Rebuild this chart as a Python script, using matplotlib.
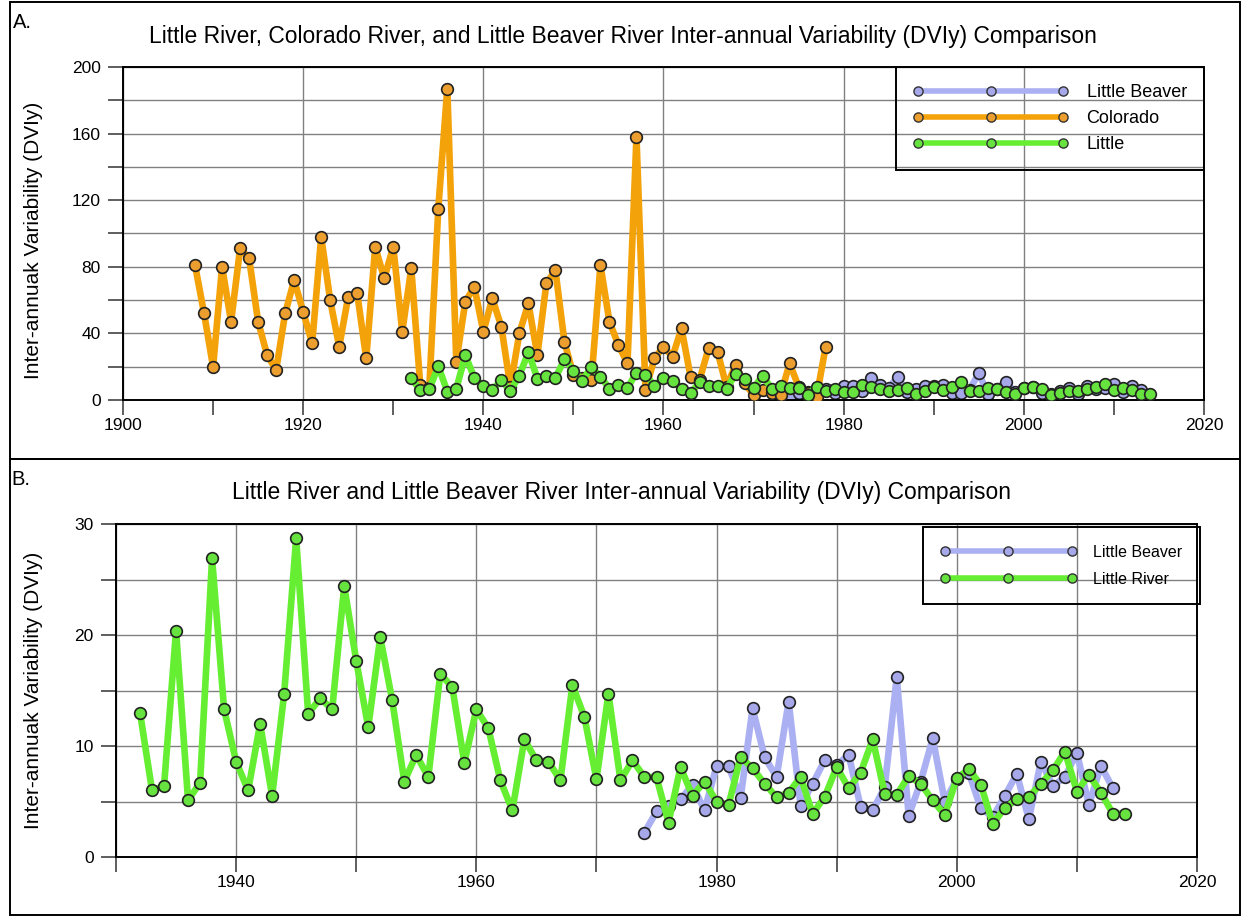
import matplotlib
matplotlib.use("Agg")
import matplotlib.pyplot as plt
from matplotlib.lines import Line2D
from matplotlib.patches import Rectangle
from matplotlib.ticker import MultipleLocator

# ---------------- data ----------------
colorado_years = list(range(1908, 1979))
colorado = [81, 52, 20, 80, 47, 91, 85, 47, 27, 18,
            52, 72, 53, 34, 98, 60, 32, 62, 64, 25,
            92, 73, 92, 41, 79, 9, 7, 115, 187, 23,
            59, 68, 41, 61, 44, 8, 40, 58, 27, 70,
            78, 35, 15, 13, 12, 81, 47, 33, 22, 158,
            6, 25, 32, 26, 43, 14, 12, 31, 29, 8,
            21, 10, 3, 6, 4, 3, 22, 8, 4, 2, 32]

little_years = list(range(1932, 2015))
little = [13.0, 6.0, 6.4, 20.4, 5.1, 6.7, 26.9, 13.3, 8.6, 6.0,
          12.0, 5.5, 14.7, 28.7, 12.9, 14.3, 13.3, 24.4, 17.7, 11.7,
          19.8, 14.1, 6.8, 9.2, 7.2, 16.5, 15.3, 8.5, 13.3, 11.6,
          6.9, 4.2, 10.6, 8.7, 8.6, 6.9, 15.5, 12.6, 7.0, 14.7,
          6.9, 8.7, 7.2, 7.2, 3.1, 8.1, 5.5, 6.8, 5.0, 4.7,
          9.0, 8.0, 6.6, 5.4, 5.8, 7.2, 3.9, 5.4, 8.1, 6.2,
          7.6, 10.6, 5.7, 5.6, 7.3, 6.6, 5.1, 3.8, 7.1, 7.9,
          6.5, 3.0, 4.4, 5.2, 5.4, 6.6, 7.8, 9.5, 5.9, 7.4,
          5.8, 3.9, 3.9]

beaver_years = list(range(1974, 2014))
beaver = [2.2, 4.1, 4.6, 5.2, 6.5, 4.2, 8.2, 8.2, 5.3, 13.4,
          9.0, 7.2, 14.0, 4.6, 6.6, 8.7, 8.3, 9.2, 4.5, 4.2,
          6.3, 16.2, 3.7, 6.8, 10.7, 5.0, 7.0, 7.6, 4.4, 3.6,
          5.5, 7.5, 3.4, 8.6, 6.4, 7.2, 9.4, 4.7, 8.2, 6.2]

title_a = "Little River, Colorado River, and Little Beaver River Inter-annual Variability (DVIy) Comparison"
title_b = "Little River and Little Beaver River Inter-annual Variability (DVIy) Comparison"
ylabel = "Inter-annuak Variability (DVIy)"
legend_a = ['Little Beaver', 'Colorado', 'Little']
legend_b = ['Little Beaver', 'Little River']

# ---------------- style ----------------
plt.rcParams['font.family'] = ['Liberation Sans', 'DejaVu Sans']

C_OR_LINE, C_OR_FACE = '#F4A20A', '#EC9F2E'
C_GR_LINE, C_GR_FACE = '#66EE33', '#66E33F'
C_BL_LINE, C_BL_FACE = '#AAB0F2', '#A6A8EA'
EDGE = '#222222'
LW, MS, MEW = 4.8, 8.4, 1.2

W, H = 1243, 917
fig = plt.figure(figsize=(W / 100, H / 100), dpi=100)


def px_axes(l, t, r, b):
    return fig.add_axes([l / W, 1 - b / H, (r - l) / W, (b - t) / H])


def series(ax, x, y, lc, fc, z):
    ax.plot(x, y, '-', color=lc, lw=LW, zorder=z, solid_capstyle='round',
            solid_joinstyle='round')
    ax.plot(x, y, 'o', ms=MS, mfc=fc, mec=EDGE, mew=MEW, zorder=z + 0.5)


def style_axes(ax):
    ax.set_axisbelow(True)
    for s in ax.spines.values():
        s.set_linewidth(1.4)
        s.set_color('black')
    ax.tick_params(which='both', direction='out', length=11, width=1.1,
                   color='#333333', labelsize=12.5)
    ax.tick_params(axis='x', which='both', pad=2)
    ax.tick_params(axis='y', which='both', pad=5)
    ax.grid(True, which='major', color='#808080', lw=1.0)
    ax.yaxis.grid(True, which='minor', color='#808080', lw=1.0)


def proxy(lc, fc):
    return Line2D([], [], color=lc, lw=4.0, marker='o', ms=6.6, mfc=fc,
                  mec='#333333', mew=1.0)


def frame_style(leg):
    fr = leg.get_frame()
    fr.set_facecolor('none')
    fr.set_edgecolor('black')
    fr.set_alpha(None)
    fr.set_linewidth(1.4)


# ---------------- panel A ----------------
axA = px_axes(123, 67, 1204, 400)
series(axA, beaver_years, beaver, C_BL_LINE, C_BL_FACE, 2)
series(axA, colorado_years, colorado, C_OR_LINE, C_OR_FACE, 3)
series(axA, little_years, little, C_GR_LINE, C_GR_FACE, 4)
axA.set_xlim(1900, 2020)
axA.set_ylim(0, 200)
axA.xaxis.set_major_locator(MultipleLocator(20))
axA.xaxis.set_minor_locator(MultipleLocator(10))
axA.yaxis.set_major_locator(MultipleLocator(40))
axA.yaxis.set_minor_locator(MultipleLocator(20))
style_axes(axA)
axA.set_ylabel(ylabel, fontsize=15)
axA.yaxis.set_label_coords((43 - 123) / (1204 - 123), 0.48)

legA = axA.legend([proxy(C_BL_LINE, C_BL_FACE), proxy(C_OR_LINE, C_OR_FACE),
                   proxy(C_GR_LINE, C_GR_FACE)], legend_a,
                  loc='upper right', bbox_to_anchor=(1.0, 1.0),
                  borderaxespad=0.0, numpoints=3, handlelength=8.65,
                  handletextpad=0.98, borderpad=0.95, labelspacing=0.5,
                  fontsize=13, fancybox=False)
frame_style(legA)

# ---------------- panel B ----------------
axB = px_axes(116, 524, 1197, 857)
series(axB, beaver_years, beaver, C_BL_LINE, C_BL_FACE, 2)
series(axB, little_years, little, C_GR_LINE, C_GR_FACE, 3)
axB.set_xlim(1930, 2020)
axB.set_ylim(0, 30)
axB.xaxis.set_major_locator(MultipleLocator(20))
axB.xaxis.set_minor_locator(MultipleLocator(10))
axB.yaxis.set_major_locator(MultipleLocator(10))
axB.yaxis.set_minor_locator(MultipleLocator(5))
style_axes(axB)
axB.xaxis.grid(True, which='minor', color='#808080', lw=1.0)
axB.set_ylabel(ylabel, fontsize=15)
axB.yaxis.set_label_coords((43 - 116) / (1197 - 116), 0.5)

legB = fig.legend([proxy(C_BL_LINE, C_BL_FACE), proxy(C_GR_LINE, C_GR_FACE)],
                  legend_b,
                  loc='upper left', bbox_to_anchor=(923 / W, 1 - 527 / H),
                  borderaxespad=0.0, numpoints=3, handlelength=8.5,
                  handletextpad=1.07, borderpad=1.1, labelspacing=0.75,
                  fontsize=11.5, fancybox=False)
frame_style(legB)

# ---------------- titles / labels / frames ----------------
fig.text(623 / W, 1 - 36 / H, title_a, ha='center', va='center',
         fontsize=16.5)
fig.text(622 / W, 1 - 493 / H, title_b, ha='center', va='center',
         fontsize=16.5)
fig.text(13 / W, 1 - 22 / H, 'A.', ha='left', va='center', fontsize=14.5)
fig.text(11 / W, 1 - 479 / H, 'B.', ha='left', va='center', fontsize=14.5)

for (t, b) in [(2, 459), (459, 915)]:
    fig.add_artist(Rectangle((10 / W, 1 - b / H), (1240 - 10) / W, (b - t) / H,
                             transform=fig.transFigure, fill=False,
                             edgecolor='black', lw=1.4))

fig.savefig('out.png', dpi=100)
